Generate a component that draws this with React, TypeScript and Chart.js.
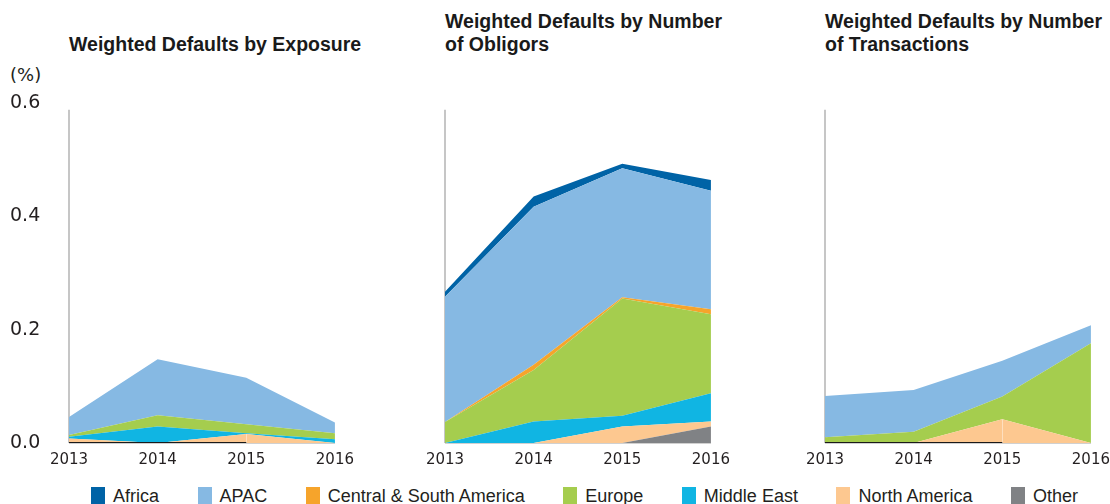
import React, { useEffect, useRef } from 'react';
import { Chart, registerables } from 'chart.js';

Chart.register(...registerables);

// ---- data ----
const years = ['2013', '2014', '2015', '2016'];
const yTickValues = [0, 0.2, 0.4, 0.6];
const yMax = 0.6;
const axisTopValue = 0.588;

const regions = ['Africa', 'APAC', 'Central & South America', 'Europe', 'Middle East', 'North America', 'Other'];
const regionColors = ['#0063a6', '#86b9e3', '#f6a42b', '#a5cd4e', '#10b5e3', '#fdc890', '#808285'];

// Weighted Defaults by Exposure
const exposureAfrica = [0, 0, 0, 0];
const exposureApac = [0.032, 0.099, 0.082, 0.019];
const exposureCsa = [0, 0, 0, 0];
const exposureEurope = [0.003, 0.020, 0.016, 0.0105];
const exposureMiddleEast = [0.003, 0.029, 0.001, 0.0065];
const exposureNorthAmerica = [0.008, 0, 0.016, 0];
const exposureOther = [0, 0, 0, 0];

// Weighted Defaults by Number of Obligors
const obligorsAfrica = [0.009, 0.018, 0.008, 0.019];
const obligorsApac = [0.221, 0.279, 0.228, 0.209];
const obligorsCsa = [0, 0.009, 0.002, 0.009];
const obligorsEurope = [0.037, 0.091, 0.207, 0.139];
const obligorsMiddleEast = [0, 0.038, 0.019, 0.050];
const obligorsNorthAmerica = [0, 0, 0.029, 0.009];
const obligorsOther = [0, 0, 0, 0.029];

// Weighted Defaults by Number of Transactions
const transactionsAfrica = [0, 0, 0, 0];
const transactionsApac = [0.073, 0.0735, 0.063, 0.032];
const transactionsCsa = [0, 0, 0, 0];
const transactionsEurope = [0.010, 0.020, 0.040, 0.176];
const transactionsMiddleEast = [0, 0, 0, 0];
const transactionsNorthAmerica = [0, 0, 0.042, 0];
const transactionsOther = [0, 0, 0, 0];

const panelTitles = [
  ['Weighted Defaults by Exposure'],
  ['Weighted Defaults by Number', 'of Obligors'],
  ['Weighted Defaults by Number', 'of Transactions'],
];

const panelSeries = [
  [exposureAfrica, exposureApac, exposureCsa, exposureEurope, exposureMiddleEast, exposureNorthAmerica, exposureOther],
  [obligorsAfrica, obligorsApac, obligorsCsa, obligorsEurope, obligorsMiddleEast, obligorsNorthAmerica, obligorsOther],
  [transactionsAfrica, transactionsApac, transactionsCsa, transactionsEurope, transactionsMiddleEast, transactionsNorthAmerica, transactionsOther],
];

// black zero line drawn along the base (2013–2015) in these panels
const panelBaseLine = [true, false, true];

const TICK_FONT = '"DejaVu Sans", "Liberation Sans", sans-serif';
const TEXT_FONT = '"Liberation Sans", Arial, sans-serif';

const axisLinePlugin = {
  id: 'axisLine',
  beforeDatasetsDraw(chart: any) {
    const { ctx, chartArea, scales } = chart;
    const y = scales.y;
    ctx.save();
    ctx.strokeStyle = '#c6c6c6';
    ctx.lineWidth = 2;
    ctx.beginPath();
    ctx.moveTo(chartArea.left, y.getPixelForValue(axisTopValue));
    ctx.lineTo(chartArea.left, y.getPixelForValue(0));
    ctx.stroke();
    ctx.restore();
  },
};

type PanelProps = {
  index: number;
  left: number;
  width: number;
  showTicks: boolean;
  yAxisWidth: number;
  padLeft: number;
};

function Panel({ index, left, width, showTicks, yAxisWidth, padLeft }: PanelProps) {
  const ref = useRef<HTMLCanvasElement | null>(null);
  useEffect(() => {
    if (!ref.current) return;
    const series = panelSeries[index];
    const order = [6, 5, 4, 3, 2, 1, 0]; // bottom of stack first
    const datasets = order.map((r, i) => {
      const isBase = i === 0 && panelBaseLine[index];
      return {
        label: regions[r],
        data: series[r],
        backgroundColor: regionColors[r],
        borderColor: isBase ? '#1a1a1a' : 'rgba(0,0,0,0)',
        borderWidth: isBase ? 2 : 0,
        pointRadius: 0,
        tension: 0,
        fill: i === 0 ? 'origin' : '-1',
        segment: isBase
          ? { borderColor: (c: any) => (c.p1DataIndex <= 2 ? '#1a1a1a' : 'rgba(0,0,0,0)') }
          : undefined,
      };
    });
    const chart = new Chart(ref.current, {
      type: 'line',
      data: { labels: years, datasets: datasets as any },
      options: {
        responsive: false,
        animation: false,
        layout: { padding: { top: 23, left: padLeft, right: 20, bottom: 0 } },
        plugins: { legend: { display: false }, tooltip: { enabled: false } },
        scales: {
          x: {
            offset: false,
            grid: { display: false, drawTicks: false },
            border: { display: true, color: '#d0d0d0', width: 1 },
            ticks: {
              color: '#231f20',
              font: { family: TICK_FONT, size: 15 },
              padding: 8,
              maxRotation: 0,
            },
            afterFit: (s: any) => {
              s.height = 37;
            },
          },
          y: {
            stacked: true,
            min: 0,
            max: yMax,
            grid: { display: false, drawTicks: false },
            border: { display: false },
            afterBuildTicks: (s: any) => {
              s.ticks = yTickValues.map((v) => ({ value: v }));
            },
            ticks: {
              display: showTicks,
              crossAlign: 'far',
              color: '#231f20',
              font: { family: TICK_FONT, size: 19 },
              callback: (v: any) => Number(v).toFixed(1),
            },
            afterFit: (s: any) => {
              s.width = yAxisWidth;
            },
          },
        },
      },
      plugins: [axisLinePlugin],
    });
    return () => chart.destroy();
  }, [index, showTicks, yAxisWidth, padLeft]);
  return (
    <canvas
      ref={ref}
      width={width}
      height={400}
      style={{ position: 'absolute', left, top: 80, width, height: 400 }}
    />
  );
}

const titleStyle: React.CSSProperties = {
  position: 'absolute',
  fontFamily: TEXT_FONT,
  fontWeight: 'bold',
  fontSize: 19.5,
  lineHeight: '23px',
  color: '#1a1a1a',
  whiteSpace: 'nowrap',
};

export default function App() {
  const titleLeft = [69, 445, 825];
  return (
    <div style={{ position: 'absolute', left: 0, top: 0, width: 1110, height: 504, overflow: 'hidden', background: '#fff' }}>
      {panelTitles.map((lines, i) => (
        <div key={i} style={{ ...titleStyle, left: titleLeft[i], top: lines.length === 1 ? 33 : 10 }}>
          {lines.map((l, j) => (
            <div key={j}>{l}</div>
          ))}
        </div>
      ))}
      <div style={{ position: 'absolute', left: 10, top: 64, fontFamily: TICK_FONT, fontSize: 18, color: '#231f20' }}>(%)</div>
      <Panel index={0} left={0} width={362} showTicks={true} yAxisWidth={59} padLeft={10} />
      <Panel index={1} left={400} width={338} showTicks={false} yAxisWidth={45} padLeft={0} />
      <Panel index={2} left={780} width={338} showTicks={false} yAxisWidth={45} padLeft={0} />
      <div
        style={{
          position: 'absolute',
          left: 91,
          top: 486,
          display: 'flex',
          gap: 38.5,
          fontFamily: TEXT_FONT,
          fontSize: 18,
          color: '#231f20',
          whiteSpace: 'nowrap',
        }}
      >
        {regions.map((r, i) => (
          <div key={r} style={{ display: 'flex', alignItems: 'flex-start' }}>
            <span style={{ display: 'inline-block', width: 14, height: 18, background: regionColors[i], marginRight: 8, marginTop: 1 }} />
            <span style={{ lineHeight: '20px' }}>{r}</span>
          </div>
        ))}
      </div>
    </div>
  );
}
